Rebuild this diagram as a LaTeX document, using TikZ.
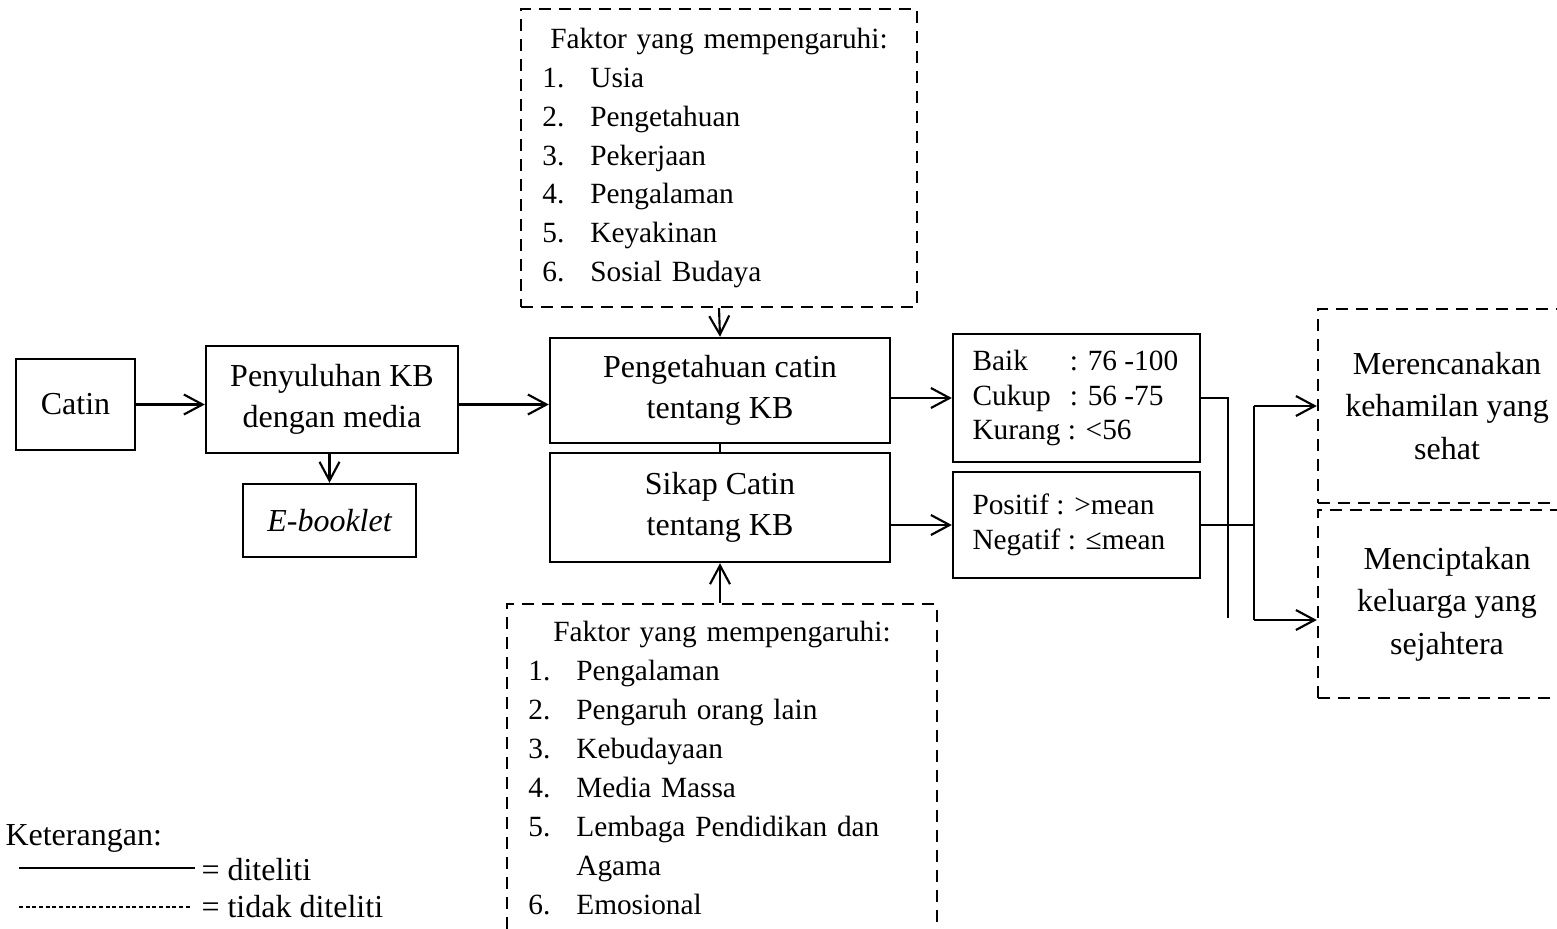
\documentclass[tikz,border=0pt]{standalone}
\usepackage{fontspec}
\setmainfont{Liberation Serif}
\usetikzlibrary{arrows.meta}
\newcommand{\butir}[2]{\makebox[18pt][l]{#1}#2\par}
\newcommand{\baris}[1]{\makebox[78pt][l]{#1}}

\begin{document}
\begin{tikzpicture}[x=0.375pt, y=-0.375pt,
  kotak/.style={draw, line width=0.9pt, align=center, inner sep=0pt,
    font=\fontsize{12pt}{15.4pt}\selectfont},
  skor/.style={draw, line width=0.9pt, align=left, inner sep=0pt,
    minimum width=92.6pt, font=\fontsize{11pt}{12.9pt}\selectfont},
  putus/.style={draw, line width=0.9pt, dash pattern=on 4.5pt off 3pt},
  faktor/.style={putus, inner xsep=8pt, font=\fontsize{11pt}{14.6pt}\selectfont},
  hasil/.style={putus, align=center, inner sep=0pt, minimum width=96.75pt,
    font=\fontsize{12pt}{16pt}\selectfont},
  panah/.style={line width=0.8pt, -{Straight Barb[length=7pt,width=7.5pt]}},
  tipis/.style={line width=0.4pt},
  ket/.style={anchor=base west, inner sep=0pt, font=\fontsize{12pt}{14pt}\selectfont}]
\useasboundingbox (0,0) rectangle (1557,928);

% alur utama
\node[kotak, minimum width=44.6pt, minimum height=34.1pt] (catin) at (75.5,404.5) {Catin};
\node[kotak, minimum width=94.5pt, minimum height=40.1pt] (penyuluhan) at (332,399.5)
  {Penyuluhan KB\\dengan media};
\node[kotak, minimum width=64.9pt, minimum height=27.4pt] (ebooklet) at (329.5,520.5)
  {\itshape E-booklet};
\node[kotak, minimum width=127.5pt, minimum height=39.4pt] (pengetahuan) at (720,390.5)
  {Pengetahuan catin\\tentang KB};
\node[kotak, minimum width=127.5pt, minimum height=40.9pt] (sikap) at (720,507.5)
  {Sikap Catin\\tentang KB};

% faktor yang mempengaruhi
\node[faktor, text width=132.5pt, minimum height=111.75pt] (faktoratas) at (719,158) {%
  \centering Faktor yang mempengaruhi:\par
  \raggedright
  \butir{1.}{Usia}
  \butir{2.}{Pengetahuan}
  \butir{3.}{Pekerjaan}
  \butir{4.}{Pengalaman}
  \butir{5.}{Keyakinan}
  \butir{6.}{Sosial Budaya}};
\node[faktor, text width=145.25pt, anchor=north, inner ysep=6.4pt] (faktorbawah) at (722,603) {%
  \centering Faktor yang mempengaruhi:\par
  \raggedright
  \butir{1.}{Pengalaman}
  \butir{2.}{Pengaruh orang lain}
  \butir{3.}{Kebudayaan}
  \butir{4.}{Media Massa}
  \butir{5.}{Lembaga Pendidikan dan}
  \butir{}{Agama}
  \butir{6.}{Emosional}};

% kategori
\node[skor, minimum height=48pt] (skor1) at (1076.5,398)
  {\baris{\makebox[36.5pt][l]{Baik}: 76 -100}\\\makebox[36.5pt][l]{Cukup}: 56 -75\\Kurang : <56};
\node[skor, minimum height=39.75pt] (skor2) at (1076.5,525)
  {\baris{Positif : >mean}\\Negatif : ≤mean};

% hasil
\node[hasil, minimum height=72.75pt] (hasil1) at (1447,406)
  {Merencanakan\\kehamilan yang\\sehat};
\node[hasil, minimum height=70.5pt] (hasil2) at (1447,604)
  {Menciptakan\\keluarga yang\\sejahtera};

\coordinate (garisA) at (1228,618);
\coordinate (busatas) at (1254,406);
\coordinate (busbawah) at (1254,620);

\draw[panah] (catin.east) -- (catin.east -| penyuluhan.west);
\draw[panah] (catin.east -| penyuluhan.east) -- (catin.east -| pengetahuan.west);
\draw[panah] (ebooklet.north |- penyuluhan.south) -- (ebooklet.north);
\draw[panah] (faktoratas.south) -- (pengetahuan.north);
\draw[panah] (sikap.south |- faktorbawah.north) -- (sikap.south);
\draw[tipis] (pengetahuan.south) -- (sikap.north);
\draw[panah] (skor1.west -| pengetahuan.east) -- (skor1.west);
\draw[panah] (skor2.west -| sikap.east) -- (skor2.west);
\draw[tipis] (skor1.east) -| (garisA);
\draw[tipis] (skor2.east) -- (skor2.east -| busatas);
\draw[line width=0.8pt] (busatas) -- (busbawah);
\draw[panah] (busatas) -- (hasil1.west);
\draw[panah] (busbawah) -- (busbawah -| hasil2.west);

% keterangan
\node[ket] (keterangan) at (5,845) {Keterangan:};
\node[ket] (diteliti) at (201,880) {= diteliti};
\node[ket] (tidakditeliti) at (201,917) {= tidak diteliti};
\draw[tipis] (19,868) -- (195,868);
\draw[tipis, dash pattern=on 1.5pt off 1pt] (19,907) -- (190,907);
\end{tikzpicture}
\end{document}
